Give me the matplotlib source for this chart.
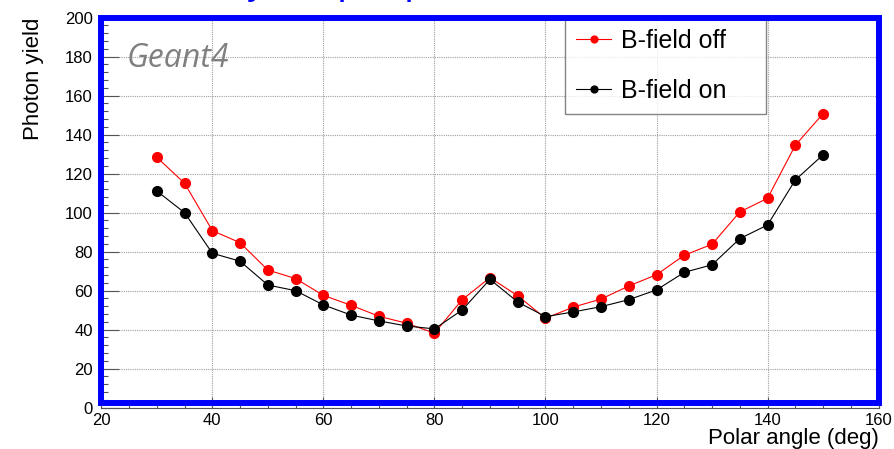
import numpy as np
import matplotlib
matplotlib.use("Agg")
from matplotlib import pyplot as plt
from matplotlib.patches import Rectangle
from matplotlib.ticker import MultipleLocator

# polar angle (deg)
angle = [30, 35, 40, 45, 50, 55, 60, 65, 70, 75, 80, 85, 90, 95, 100,
         105, 110, 115, 120, 125, 130, 135, 140, 145, 150]
# photon yield, B-field off
yield_off = [128.4, 115.1, 90.8, 84.6, 70.6, 66.2, 57.6, 52.5, 46.9, 43.3, 38.2, 55.4, 66.7,
             57.4, 45.8, 51.6, 55.7, 62.4, 68.2, 78.2, 83.8, 100.4, 107.4, 134.6, 150.8]
# photon yield, B-field on
yield_on = [111.1, 100.0, 79.2, 75.1, 62.9, 60.0, 52.7, 47.5, 44.5, 41.9, 40.4, 50.1, 65.8,
            54.2, 46.7, 49.1, 51.8, 55.4, 60.4, 69.4, 73.3, 86.7, 93.7, 116.8, 129.7]
labels = ["B-field off", "B-field on"]

plt.rcParams['font.family'] = ['Liberation Sans', 'DejaVu Sans']

fig = plt.figure(figsize=(8.94, 4.49), dpi=100)
ax = fig.add_axes([0.1133, 0.092, 0.8695, 0.8686])

ax.plot(angle, yield_off, color='red', lw=0.8, marker='o', ms=7, label=labels[0], zorder=3)
ax.plot(angle, yield_on, color='black', lw=0.8, marker='o', ms=7, label=labels[1], zorder=3)

ax.set_xlim(20, 160)
ax.set_ylim(0, 200)
ax.xaxis.set_major_locator(MultipleLocator(20))
ax.xaxis.set_minor_locator(MultipleLocator(5))
ax.yaxis.set_major_locator(MultipleLocator(20))
ax.yaxis.set_minor_locator(MultipleLocator(4))
ax.grid(True, which='major', color='#a0a0a0', lw=0.8, linestyle=(0, (1, 1)))
ax.tick_params(axis='y', which='major', direction='in', length=13, width=0.8,
               color='#555555', labelsize=12, pad=6)
ax.tick_params(axis='y', which='minor', direction='in', length=5, width=0.8, color='#555555')
ax.tick_params(axis='x', which='major', direction='in', length=8, width=0.8,
               color='#555555', labelsize=12, pad=3.5)
ax.tick_params(axis='x', which='minor', direction='in', length=4, width=0.8, color='#555555')
for s in ax.spines.values():
    s.set_color('#555555')
    s.set_linewidth(0.8)

ax.set_ylabel("Photon yield", fontsize=16, loc='top')
ax.yaxis.set_label_coords(-0.074, 1.0)
ax.set_xlabel("Polar angle (deg)", fontsize=16, loc='right')
ax.xaxis.set_label_coords(1.0, -0.052)

ax.text(24.6, 174.5, "Geant4", fontsize=23, color='#808080', style='italic',
        family=['Open Sans', 'DejaVu Sans'], va='baseline', ha='left')

leg = ax.legend(loc='upper left', bbox_to_anchor=(0.5966, 0.7454, 0.2586, 0.2546),
                mode='expand', fontsize=18, frameon=True, fancybox=False,
                borderpad=0.45, labelspacing=1.05, handlelength=1.4, handletextpad=0.4,
                borderaxespad=0, markerscale=0.7)
leg.get_frame().set_edgecolor('#666666')
leg.get_frame().set_linewidth(1.0)
leg.set_zorder(5)

# blue frame around the plot
ax.add_patch(Rectangle((0, 0.012), 1, 0.988, transform=ax.transAxes, fill=False,
                       ec='#0000ff', lw=4.3, clip_on=False, zorder=10, joinstyle='miter'))

# title, mostly cut off at the top edge
fig.text(113 / 894, 1 + 6 / 449, "Photon yield per particle", fontsize=28,
         color='#0000ff', ha='left', va='baseline')

fig.savefig("out.png", dpi=100)
